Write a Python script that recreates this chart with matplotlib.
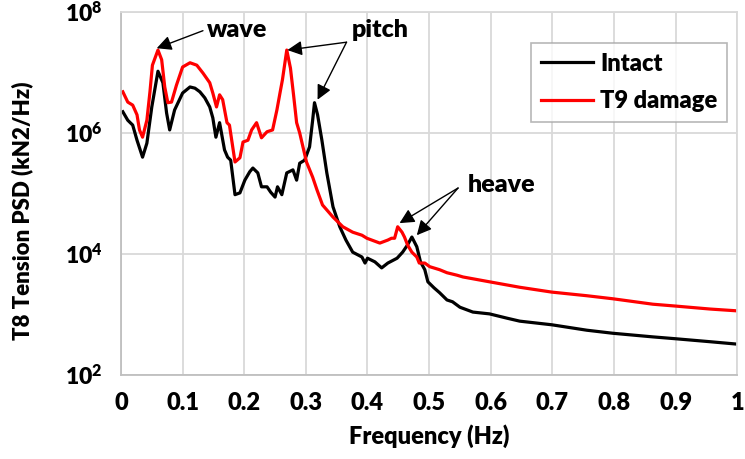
import numpy as np
import matplotlib
matplotlib.use("Agg")
import matplotlib.pyplot as plt

# =====================================================
# DATA (PSD as log10 values)
# =====================================================

intact_freq = [0.003, 0.011, 0.019, 0.026, 0.035, 0.042, 0.050, 0.060, 0.068, 0.074,
               0.079, 0.087, 0.100, 0.112, 0.120, 0.128, 0.136, 0.144, 0.149, 0.154,
               0.160, 0.168, 0.173, 0.178, 0.185, 0.193, 0.201, 0.209, 0.214, 0.222,
               0.228, 0.237, 0.243, 0.250, 0.254, 0.261, 0.269, 0.279, 0.285, 0.290,
               0.298, 0.306, 0.311, 0.314, 0.319, 0.326, 0.334, 0.344, 0.355, 0.365,
               0.376, 0.391, 0.396, 0.400, 0.412, 0.423, 0.433, 0.448, 0.457, 0.465,
               0.472, 0.480, 0.486, 0.493, 0.498, 0.508, 0.517, 0.529, 0.538, 0.550,
               0.571, 0.598, 0.626, 0.647, 0.699, 0.756, 0.798, 0.863, 0.899, 0.956,
               1.000]
intact_log = [6.35, 6.21, 6.13, 5.88, 5.60, 5.83, 6.43, 7.02, 6.83, 6.33,
              6.05, 6.38, 6.66, 6.76, 6.74, 6.68, 6.58, 6.43, 6.25, 5.93,
              6.17, 5.72, 5.60, 5.55, 4.98, 5.01, 5.22, 5.36, 5.42, 5.34,
              5.11, 5.11, 5.02, 4.94, 5.11, 4.98, 5.34, 5.39, 5.22, 5.50,
              5.55, 5.77, 6.21, 6.50, 6.30, 5.88, 5.34, 4.78, 4.45, 4.23,
              4.03, 3.95, 3.85, 3.93, 3.87, 3.77, 3.85, 3.93, 4.03, 4.15,
              4.28, 4.12, 3.87, 3.74, 3.54, 3.44, 3.36, 3.24, 3.21, 3.12,
              3.04, 3.01, 2.94, 2.89, 2.83, 2.74, 2.69, 2.63, 2.60, 2.55,
              2.51]

damage_freq = [0.003, 0.011, 0.019, 0.026, 0.030, 0.035, 0.042, 0.047, 0.051, 0.060,
               0.066, 0.071, 0.076, 0.082, 0.090, 0.100, 0.112, 0.123, 0.133, 0.144,
               0.149, 0.155, 0.160, 0.165, 0.172, 0.176, 0.185, 0.193, 0.198, 0.206,
               0.212, 0.220, 0.228, 0.237, 0.246, 0.253, 0.258, 0.262, 0.269, 0.275,
               0.280, 0.285, 0.290, 0.301, 0.311, 0.318, 0.327, 0.344, 0.360, 0.376,
               0.391, 0.399, 0.420, 0.433, 0.439, 0.444, 0.449, 0.456, 0.460, 0.465,
               0.472, 0.480, 0.484, 0.493, 0.501, 0.517, 0.529, 0.545, 0.555, 0.598,
               0.647, 0.699, 0.756, 0.798, 0.863, 0.899, 0.956, 1.000]
damage_log = [6.68, 6.51, 6.46, 6.30, 6.05, 5.93, 6.21, 6.68, 7.12, 7.37,
              7.21, 6.76, 6.50, 6.51, 6.79, 7.09, 7.16, 7.12, 6.99, 6.83,
              6.66, 6.43, 6.63, 6.55, 6.17, 6.13, 5.52, 5.59, 5.85, 5.88,
              6.05, 6.17, 5.92, 6.02, 6.05, 6.38, 6.66, 6.88, 7.37, 7.07,
              6.63, 6.17, 6.00, 5.52, 5.27, 5.06, 4.81, 4.61, 4.45, 4.36,
              4.31, 4.26, 4.18, 4.23, 4.26, 4.26, 4.45, 4.36, 4.28, 4.15,
              4.03, 3.95, 3.85, 3.85, 3.79, 3.74, 3.69, 3.65, 3.62, 3.54,
              3.45, 3.37, 3.31, 3.26, 3.17, 3.14, 3.09, 3.06]

x_ticks = [0, 0.1, 0.2, 0.3, 0.4, 0.5, 0.6, 0.7, 0.8, 0.9, 1]
x_tick_labels = ["0", "0.1", "0.2", "0.3", "0.4", "0.5", "0.6", "0.7", "0.8", "0.9", "1"]
y_exponents = [2, 4, 6, 8]

intact_psd = 10 ** np.array(intact_log)
damage_psd = 10 ** np.array(damage_log)

# =====================================================
# STYLE
# =====================================================

FONT = "Lato"
W = "heavy"
plt.rcParams["font.family"] = [FONT, "DejaVu Sans"]
plt.rcParams["font.weight"] = W
plt.rcParams["mathtext.fontset"] = "custom"
plt.rcParams["mathtext.rm"] = FONT + ":heavy"
plt.rcParams["mathtext.bf"] = FONT + ":heavy"

GRID = "#d9d9d9"

fig = plt.figure(figsize=(7.45, 4.59), dpi=100)
ax = fig.add_axes([0.1624, 0.183, 0.8272, 0.791])

ax.plot(intact_freq, intact_psd, color="black", lw=2.3, label="Intact")
ax.plot(damage_freq, damage_psd, color="#ff0000", lw=2.3, label="T9 damage")

ax.set_yscale("log")
ax.set_xlim(0, 1)
ax.set_ylim(1e2, 1e8)

ax.set_xticks(x_ticks)
ax.set_xticklabels(x_tick_labels, fontsize=17, fontweight=W)
ax.set_yticks([10.0 ** e for e in y_exponents])
ax.set_yticklabels([r"$\mathbf{10^{%d}}$" % e for e in y_exponents], fontsize=16.5)
ax.minorticks_off()
ax.tick_params(axis="x", length=0, pad=12)
ax.tick_params(axis="y", length=0, pad=13)

ax.grid(True, color=GRID, lw=1.3)
ax.set_axisbelow(True)
for side in ["top", "right"]:
    ax.spines[side].set_color(GRID)
    ax.spines[side].set_linewidth(1.3)
for side in ["left", "bottom"]:
    ax.spines[side].set_color("#bfbfbf")
    ax.spines[side].set_linewidth(1.3)

ax.set_xlabel("Frequency (Hz)", fontsize=17, fontweight=W, labelpad=8)
ax.set_ylabel("T8 Tension PSD (kN2/Hz)", fontsize=16, fontweight=W)
ax.yaxis.set_label_coords(-0.143, 0.452)

leg = ax.legend(loc="upper right", bbox_to_anchor=(0.984, 0.915), fontsize=17,
                frameon=True, fancybox=False, handlelength=2.2, borderaxespad=0,
                borderpad=0.42, labelspacing=0.65, handletextpad=0.3)
leg.get_frame().set_edgecolor("#a6a6a6")
leg.get_frame().set_linewidth(1.2)
for t in leg.get_texts():
    t.set_fontweight(W)

# =====================================================
# ANNOTATIONS
# =====================================================

arrow = dict(arrowstyle="-|>", color="black", lw=1.0, mutation_scale=22,
             shrinkA=0, shrinkB=0)

ax.text(0.188, 10 ** 7.70, "wave", fontsize=18, fontweight=W,
        ha="center", va="center")
ax.annotate("", xy=(0.058, 10 ** 7.40), xytext=(0.133, 10 ** 7.69), arrowprops=arrow)

ax.text(0.42, 10 ** 7.70, "pitch", fontsize=18, fontweight=W,
        ha="center", va="center")
ax.annotate("", xy=(0.270, 10 ** 7.37), xytext=(0.366, 10 ** 7.50), arrowprops=arrow)
ax.annotate("", xy=(0.319, 10 ** 6.55), xytext=(0.366, 10 ** 7.50), arrowprops=arrow)

ax.text(0.618, 10 ** 5.14, "heave", fontsize=18, fontweight=W,
        ha="center", va="center")
ax.annotate("", xy=(0.452, 10 ** 4.51), xytext=(0.547, 10 ** 5.09), arrowprops=arrow)
ax.annotate("", xy=(0.480, 10 ** 4.31), xytext=(0.547, 10 ** 5.09), arrowprops=arrow)

fig.savefig("out.png", dpi=100)
plt.close(fig)
